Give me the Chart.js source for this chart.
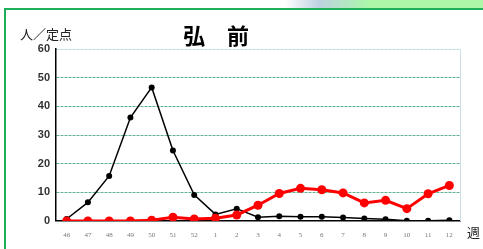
<!DOCTYPE html>
<html>
<head>
<meta charset="utf-8">
<script src="https://cdn.jsdelivr.net/npm/chart.js@4"></script>
<style>
  html, body { margin: 0; padding: 0; background: #fff; }
  #wrap { width: 483px; height: 249px; position: relative; }
</style>
</head>
<body>
<div id="wrap"><canvas id="chart-hirosaki" width="483" height="249"></canvas></div>
<script>
// 週 (week numbers)
var weeks = ["46", "47", "48", "49", "50", "51", "52", "1", "2", "3", "4", "5", "6", "7", "8", "9", "10", "11", "12"];
// 前シーズン (black)
var lastSeason = [0.7, 6.5, 15.7, 36.1, 46.6, 24.6, 9.1, 2.3, 4.3, 1.3, 1.7, 1.5, 1.5, 1.2, 0.9, 0.6, 0.1, 0.1, 0.3];
// 今シーズン (red)
var thisSeason = [0, 0, 0, 0, 0.3, 1.3, 0.7, 1.0, 2.1, 5.5, 9.6, 11.4, 10.9, 9.8, 6.3, 7.2, 4.3, 9.5, 12.4];
var yTicks = [0, 10, 20, 30, 40, 50, 60];

// frame, title and unit labels
var decor = {
    id: 'decor',
    beforeDraw: function(chart) {
        var c = chart.ctx;
        c.save();
        var g = c.createLinearGradient(285, 0, 370, 0);
        g.addColorStop(0, 'rgba(255,255,255,1)');
        g.addColorStop(0.4, 'rgba(190,210,225,1)');
        g.addColorStop(1, 'rgba(170,248,168,1)');
        c.fillStyle = g;
        c.fillRect(285, 0, 85, 9);
        c.fillStyle = '#aaf8a8';
        c.fillRect(370, 0, 113, 9);
        c.fillStyle = '#1cae58';
        c.fillRect(5, 8, 478, 2);
        c.fillRect(4, 8, 2, 241);
        c.restore();
    },
    afterDraw: function(chart) {
        var c = chart.ctx;
        var a = chart.chartArea;
        c.save();
        c.strokeStyle = '#c8e0e8';
        c.lineWidth = 1;
        c.beginPath();
        c.moveTo(a.right + 0.5, a.top);
        c.lineTo(a.right + 0.5, a.bottom);
        c.stroke();
        c.fillStyle = '#000';
        c.textBaseline = 'middle';
        c.textAlign = 'center';
        c.font = 'bold 22px "Noto Sans CJK JP"';
        c.fillText('弘\u3000前', 216, 36);
        c.textAlign = 'left';
        c.font = '13px "Noto Sans CJK JP"';
        c.fillStyle = '#222';
        c.fillText('人／定点', 20, 34);
        c.fillText('週', 467, 232);
        c.restore();
    }
};

var ctx = document.getElementById("chart-hirosaki").getContext('2d');
var hirosakiChart = new Chart(ctx, {
    type: 'line',
    data: {
        labels: weeks,
        datasets: [{
            label: "今シーズン",
            data: thisSeason,
            borderColor: '#ff0000',
            backgroundColor: '#ff0000',
            borderWidth: 3,
            pointRadius: 4.5,
            pointHoverRadius: 4.5,
            pointBorderWidth: 0,
            tension: 0
        }, {
            label: "前シーズン",
            data: lastSeason,
            borderColor: '#000000',
            backgroundColor: '#000000',
            borderWidth: 1.5,
            pointRadius: 3,
            pointHoverRadius: 3,
            pointBorderWidth: 0,
            tension: 0
        }]
    },
    options: {
        responsive: false,
        animation: false,
        events: [],
        layout: { padding: { left: 0, top: 49, right: 23, bottom: 0 } },
        plugins: {
            legend: { display: false },
            tooltip: { enabled: false }
        },
        scales: {
            x: {
                offset: true,
                grid: { display: false, drawTicks: false },
                border: { color: '#000', width: 1.5 },
                ticks: {
                    color: '#777',
                    font: { family: 'Liberation Serif', size: 7 },
                    padding: 10,
                    maxRotation: 0,
                    autoSkip: false
                },
                afterFit: function(s) { s.height = 28; }
            },
            y: {
                min: 0,
                max: 60,
                afterBuildTicks: function(s) {
                    s.ticks = yTicks.map(function(v) { return { value: v }; });
                },
                grid: {
                    drawTicks: false,
                    color: function(c) { return c.tick && c.tick.value === 60 ? '#b8d8e0' : '#5fb38f'; },
                    lineWidth: function(c) { return c.tick && c.tick.value === 0 ? 0 : 1; }
                },
                border: { color: '#000', width: 1.5, dash: [3, 1] },
                ticks: {
                    color: '#333',
                    font: { family: 'Liberation Sans', size: 11, weight: 'bold' },
                    padding: 6
                },
                afterFit: function(s) { s.width = 56; }
            }
        }
    },
    plugins: [decor]
});
</script>
</body>
</html>
